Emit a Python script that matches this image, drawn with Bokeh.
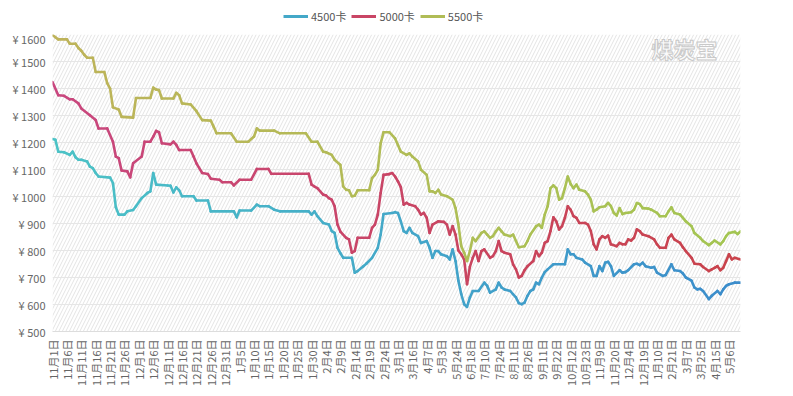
import math
from bokeh.plotting import figure
from bokeh.layouts import column
from bokeh.models import (FixedTicker, PrintfTickFormatter, Legend, LegendItem,
                          BoxAnnotation, Range1d, Label)
from bokeh.embed import file_html
from bokeh.resources import INLINE

# ---------------- data ----------------
n_days = 240
label_step = 5
tick_labels = ["11月1日", "11月6日", "11月11日", "11月16日", "11月21日", "11月26日",
               "12月1日", "12月6日", "12月11日", "12月16日", "12月21日", "12月26日",
               "12月31日", "1月5日", "1月10日", "1月15日", "1月20日", "1月25日",
               "1月30日", "2月4日", "2月9日", "2月14日", "2月19日", "2月24日",
               "3月1日", "3月16日", "4月7日", "5月3日", "5月24日", "6月18日",
               "7月10日", "7月24日", "8月11日", "8月26日", "9月11日", "9月22日",
               "10月12日", "10月23日", "11月9日", "11月20日", "12月4日", "12月19日",
               "1月10日", "2月21日", "3月7日", "3月25日", "4月15日", "5月6日"]
y_ticks = [500, 600, 700, 800, 900, 1000, 1100, 1200, 1300, 1400, 1500, 1600]

idx_4500 = [0, 1, 2, 4, 6, 7, 8, 9, 10, 12, 13, 14, 15, 16, 20, 21, 22, 23, 25, 26, 28, 29, 31, 33, 34, 35, 36, 40,
            41, 42, 43, 44, 45, 49, 50, 54, 55, 63, 64, 65, 69, 71, 72, 75, 77, 79, 89, 90, 91, 92, 94, 96, 97, 98,
            99, 100, 101, 104, 105, 106, 108, 109, 111, 113, 114, 115, 118, 119, 120, 121, 122, 123, 124, 125, 127,
            128, 130, 131, 132, 133, 134, 135, 137, 138, 139, 140, 141, 142, 143, 144, 145, 146, 148, 150, 151, 152,
            154, 155, 156, 157, 159, 160, 161, 162, 163, 164, 165, 166, 167, 168, 169, 170, 171, 172, 174, 178, 179,
            180, 181, 182, 184, 185, 187, 188, 189, 190, 191, 192, 193, 194, 195, 197, 198, 199, 200, 202, 203, 204,
            205, 206, 208, 209, 210, 212, 213, 215, 216, 218, 219, 220, 222, 223, 224, 225, 226, 228, 229, 231, 232,
            233, 234, 235, 237, 239]
price_4500 = [1213, 1210, 1166, 1164, 1154, 1166, 1145, 1136, 1136, 1130, 1111, 1105, 1087, 1074, 1070, 1050, 960,
              933, 933, 945, 950, 964, 994, 1013, 1019, 1087, 1044, 1041,
              1040, 1015, 1034, 1023, 1001, 1001, 985, 985, 945, 945, 923, 948, 948, 970, 964, 964, 951, 945, 945,
              933, 945, 927, 902, 896, 872, 865,
              810, 790, 773, 773, 718, 724, 742, 751, 773, 810, 859, 935, 939, 942, 939, 908, 872, 865, 884, 865, 853,
              828, 835, 810, 773, 798, 798, 786, 779, 767, 804, 761, 688, 638, 601, 591, 626, 650, 650, 681, 669, 644,
              656, 681, 663, 656, 650, 638, 626, 605, 601, 607, 632, 650, 656, 681, 675, 700, 720, 730, 749, 749, 804,
              786, 786, 773, 767, 755, 742, 706, 706, 742, 724, 755, 758, 742, 706, 727, 718, 720, 727, 749, 751, 746,
              755, 742, 736, 739, 718, 706, 709, 749, 727, 724, 715, 700, 688, 663, 656, 658, 650, 620, 632, 650, 638,
              656, 669, 675, 681, 681]

idx_5000 = [0, 2, 4, 6, 7, 9, 10, 13, 15, 16, 19, 21, 22, 23, 24, 26, 27, 28, 31, 32, 34, 35, 36, 37, 38, 41, 42, 43,
            44, 48, 49, 50, 52, 54, 55, 58, 59, 62, 63, 65, 69, 71, 75, 76, 89, 90, 91, 92, 94, 95, 96, 97, 98, 99,
            100, 102, 103, 104, 105, 106, 110, 111, 112, 113, 114, 115, 117, 118, 119, 120, 121, 122, 123, 124, 126,
            127, 128, 129, 130, 131, 132, 134, 136, 137, 138, 139, 140, 141, 142, 143, 144, 145, 146, 147, 148, 149,
            150, 152, 153, 154, 155, 156, 157, 159, 160, 161, 162, 163, 164, 165, 167, 168, 169, 170, 171, 172, 173,
            174, 175, 176, 177, 178, 179, 180, 181, 182, 183, 185, 186, 187, 188, 189, 190, 191, 192, 193, 194, 196,
            197, 198, 199, 200, 201, 202, 203, 204, 205, 207, 209, 210, 211, 213, 214, 215, 216, 218, 219, 220, 222,
            223, 225, 226, 228, 229, 230, 231, 232, 233, 234, 235, 236, 237, 239]
price_5000 = [1424, 1375, 1373, 1360, 1360, 1345, 1326, 1301, 1283, 1252, 1252, 1203, 1148, 1142, 1096, 1093, 1071,
              1123, 1148, 1203, 1203, 1222, 1243, 1238, 1197, 1193, 1203, 1191,
              1172, 1172, 1148, 1123, 1087, 1083, 1066, 1062, 1053, 1053, 1041, 1062, 1062, 1102, 1102, 1084, 1084,
              1044, 1037, 1031, 1007, 1004, 994, 988, 964, 896,
              870, 847, 841, 792, 798, 847, 847, 884, 896, 933, 1013, 1080, 1083, 1087, 1074, 1056, 1035, 970, 976,
              970, 964,
              951, 933, 939, 921, 865, 896, 908, 906, 896, 859, 890, 859, 800, 786, 767, 675, 740, 773, 798, 761, 798,
              804, 773, 779, 798, 835, 798, 792, 786, 749, 730, 700, 706, 727, 742, 761, 798, 779, 792, 828, 835, 872,
              923, 908, 878, 890, 921, 964, 951, 927, 921, 902, 902, 896, 872, 823, 804, 841, 853, 847, 855, 823, 816,
              828, 823, 823, 841, 837, 847, 878, 872, 859, 853, 841, 823, 810, 810, 847, 859, 841, 828, 812, 798, 773,
              751, 749, 739, 724, 730, 736, 742, 727, 736, 761, 786, 767, 773, 767]

idx_5500 = [0, 1, 2, 5, 6, 8, 9, 10, 11, 12, 14, 15, 18, 19, 20, 21, 23, 24, 28, 29, 34, 35, 36, 37, 38, 42, 43, 44,
            45, 48, 50, 52, 55, 56, 57, 62, 64, 68, 70, 71, 72, 77, 79, 88, 90, 92, 94, 95, 97, 98, 100, 101, 102,
            103, 104, 105, 106, 110, 111, 112, 113, 114, 115, 117, 119, 120, 121, 123, 124, 125, 127, 128, 130, 131,
            132, 133, 134, 135, 137, 139, 140, 141, 142, 143, 144, 145, 146, 147, 149, 150, 151, 152, 153, 154, 155,
            156, 157, 159, 160, 161, 162, 164, 165, 166, 168, 169, 170, 171, 172, 173, 174, 175, 176, 177, 178, 179,
            180, 181, 182, 183, 185, 186, 187, 188, 189, 190, 192, 193, 194, 195, 196, 197, 198, 199, 200, 201, 202,
            203, 204, 205, 207, 208, 210, 211, 213, 214, 215, 216, 218, 219, 220, 222, 223, 225, 226, 228, 229, 230,
            232, 233, 234, 235, 237, 238, 239]
price_5500 = [1598, 1590, 1582, 1582, 1566, 1566, 1550, 1540, 1525, 1514, 1514, 1461, 1461, 1420, 1400, 1330, 1322,
              1295, 1292, 1365, 1365, 1403, 1396, 1394, 1363, 1363, 1384, 1375,
              1345, 1341, 1316, 1283, 1281, 1258, 1234, 1234, 1203, 1203, 1222, 1252, 1244, 1244, 1234, 1234, 1203,
              1203, 1166, 1164, 1154, 1136, 1117, 1037, 1025,
              1023, 1001, 1003, 1023, 1023, 1068, 1080, 1099, 1197, 1238, 1238, 1215, 1191, 1166, 1154, 1160, 1148,
              1130, 1099, 1080, 1019,
              1019, 1013, 1025, 1007, 1001, 988, 957, 896, 816, 792, 761, 798, 847, 835, 865, 871, 859, 847, 853, 871,
              884,
              871, 859, 853, 859, 835, 812, 816, 835, 859, 890, 896, 884, 933, 964, 1031, 1041, 1031, 988, 994, 1031,
              1074,
              1046, 1031, 1044, 1025, 1019, 1007, 988, 945, 951, 960, 964, 976, 964, 939, 930, 957, 935, 939, 940, 942,
              951,
              976, 972, 957, 955, 951, 939, 927, 927, 945, 960, 939, 933, 921, 908, 890, 865, 847, 835, 820, 828, 837,
              823, 835, 853, 865, 869, 861, 871]

series = [
    ("4500卡", idx_4500, price_4500, "#4cc3c6", "#3b8ccb"),
    ("5000卡", idx_5000, price_5000, "#c9477f", "#c9434b"),
    ("5500卡", idx_5500, price_5500, "#beb35a", "#a3c552"),
]

# ---------------- helpers ----------------
def hex2rgb(h):
    return tuple(int(h[i:i + 2], 16) for i in (1, 3, 5))

def mix(c0, c1, t):
    a, b = hex2rgb(c0), hex2rgb(c1)
    return "#%02x%02x%02x" % tuple(int(round(a[k] + (b[k] - a[k]) * t)) for k in range(3))

FONT = "Noto Sans CJK SC"
W = 790
LEFT, RIGHT = 52, 50
LEG_H = 30
TOP, BOTTOM, HEIGHT = 4, 56, 358
FRAME_H = HEIGHT - TOP - BOTTOM

p = figure(width=W, height=HEIGHT, output_backend="svg", toolbar_location=None,
           x_range=Range1d(0, n_days - 1), y_range=Range1d(y_ticks[0], y_ticks[-1]),
           min_border_left=LEFT, min_border_right=RIGHT, min_border_top=TOP, min_border_bottom=BOTTOM)
p.outline_line_color = None
p.background_fill_color = "white"
p.border_fill_color = "white"

# hatched background
bg = BoxAnnotation(fill_alpha=0, line_color=None, hatch_pattern="/", hatch_color="#e4e4e4",
                   hatch_scale=7, hatch_weight=1, level="image")
p.add_layout(bg)

p.xgrid.visible = False
p.ygrid.grid_line_color = "#e6e6e6"
p.ygrid.grid_line_width = 1

# y axis
p.yaxis.ticker = FixedTicker(ticks=y_ticks)
p.yaxis.formatter = PrintfTickFormatter(format="¥ %d")
p.yaxis.axis_line_color = None
p.yaxis.major_tick_line_color = None
p.yaxis.minor_tick_line_color = None
p.yaxis.major_tick_out = 0
p.yaxis.major_tick_in = 0
p.yaxis.major_label_text_font = FONT
p.yaxis.major_label_text_font_size = "11px"
p.yaxis.major_label_text_color = "#666666"
p.yaxis.major_label_standoff = 7

# x axis
xt = [i * label_step for i in range(len(tick_labels))]
p.xaxis.ticker = FixedTicker(ticks=xt)
p.xaxis.major_label_overrides = {t: lab for t, lab in zip(xt, tick_labels)}
p.xaxis.major_label_orientation = math.pi / 2
p.xaxis.axis_line_color = "#dddddd"
p.xaxis.major_tick_line_color = None
p.xaxis.minor_tick_line_color = None
p.xaxis.major_tick_out = 0
p.xaxis.major_tick_in = 0
p.xaxis.major_label_text_font = FONT
p.xaxis.major_label_text_font_size = "11px"
p.xaxis.major_label_text_color = "#666666"
p.xaxis.major_label_standoff = 8

# watermark
wm = Label(x=599, y=FRAME_H - 14, x_units="screen", y_units="screen", text="煤炭宝",
           text_font=FONT, text_font_size="22px", text_font_style="bold", text_baseline="middle",
           text_color="#fbfbfb", text_outline_color="#c9c9c9")
p.add_layout(wm)

# legend strip (separate small figure above the chart; its frame aligns with the chart's)
lg = figure(width=W, height=LEG_H, output_backend="svg", toolbar_location=None,
            x_axis_type=None, y_axis_type=None,
            min_border_left=LEFT, min_border_right=RIGHT, min_border_top=0, min_border_bottom=0,
            x_range=Range1d(0, 1), y_range=Range1d(0, 1))
lg.outline_line_color = None
lg.grid.visible = False
lg.background_fill_color = "white"
lg.border_fill_color = "white"

legend_items = []
for name, xs, ys, c0, c1 in series:
    seg_x, seg_y, cols = [], [], []
    last = n_days - 1
    for k in range(len(xs) - 1):
        seg_x.append([xs[k], xs[k + 1]])
        seg_y.append([ys[k], ys[k + 1]])
        cols.append(mix(c0, c1, (xs[k] + xs[k + 1]) / 2 / last))
    p.multi_line(xs=seg_x, ys=seg_y, line_color=cols, line_width=2.6,
                 line_cap="round", line_join="round")
    dummy = lg.line(x=[0], y=[0], line_color=mix(c0, c1, 0.5), line_width=3)
    dummy.visible = False
    legend_items.append(LegendItem(label=name, renderers=[dummy]))

legend = Legend(items=legend_items, orientation="horizontal", location=(231, 6),
                border_line_color=None, background_fill_alpha=0,
                label_text_font=FONT, label_text_font_size="11px", label_text_color="#555555",
                glyph_width=25, glyph_height=10, spacing=5, label_standoff=3,
                padding=0, margin=0, label_height=14)
lg.add_layout(legend, "center")

layout = column(lg, p, spacing=0)
open("out.html", "w").write(file_html(layout, INLINE))
